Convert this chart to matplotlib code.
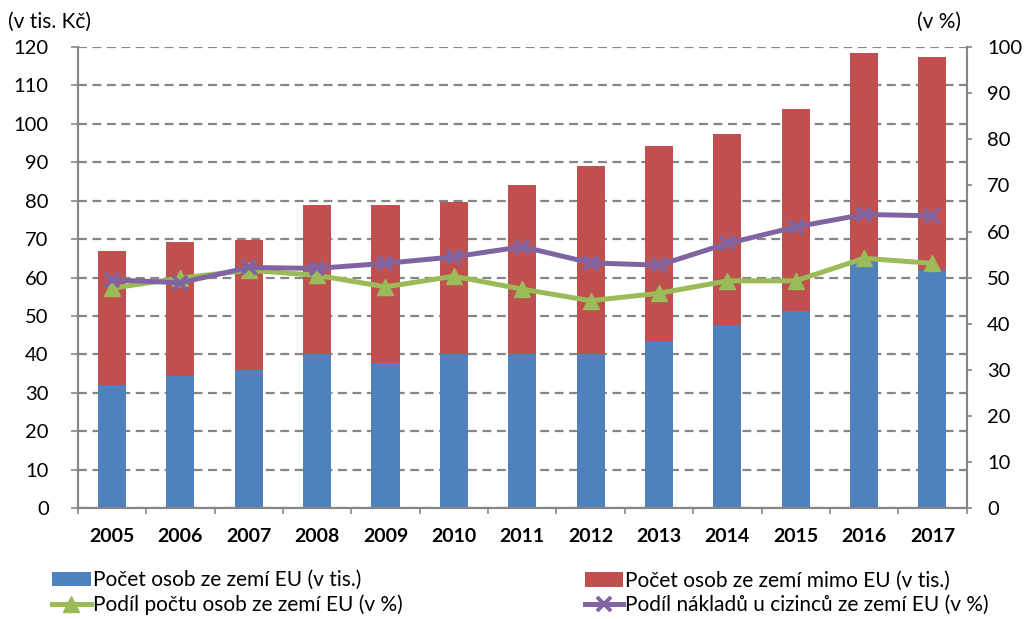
import matplotlib.pyplot as plt
import numpy as np

plt.rcParams['font.family'] = ['Lato', 'DejaVu Sans']

years = ['2005', '2006', '2007', '2008', '2009', '2010', '2011',
         '2012', '2013', '2014', '2015', '2016', '2017']
# pocet osob (v tis.)
eu_count = [32.0, 34.4, 35.9, 40.0, 37.8, 40.0, 40.0, 40.0, 43.6, 47.8, 51.3, 64.1, 62.0]
total_count = [67.0, 69.3, 69.9, 79.0, 78.8, 79.7, 84.0, 89.1, 94.3, 97.3, 104.0, 118.5, 117.3]
non_eu_count = [t - e for t, e in zip(total_count, eu_count)]
# podily (v %)
eu_share = [47.7, 49.9, 51.6, 50.5, 48.0, 50.3, 47.5, 45.0, 46.6, 49.3, 49.3, 54.2, 53.1]
cost_share = [49.5, 48.9, 52.2, 52.0, 53.1, 54.5, 56.7, 53.2, 52.7, 57.4, 61.0, 63.7, 63.4]

blue = '#4F81BD'
red = '#C0504D'
green = '#9BBB59'
purple = '#8064A2'
grey = '#868686'

fig = plt.figure(figsize=(10.24, 6.19), dpi=100)
ax = fig.add_axes([0.076, 0.179, 0.868, 0.745])
x = np.arange(len(years))

b1 = ax.bar(x, eu_count, width=0.41, color=blue, zorder=2)
b2 = ax.bar(x, non_eu_count, width=0.41, bottom=eu_count, color=red, zorder=2)

ax.set_ylim(0, 120)
ax.set_xlim(-0.5, len(years) - 0.5)
ax.set_yticks(range(0, 121, 10))
ax.yaxis.grid(True, linestyle=(0, (4, 2.5)), color=grey, linewidth=1.6, zorder=1)
ax.set_axisbelow(True)
ax.set_xticks(x)
ax.set_xticklabels(years, fontweight='bold', fontsize=14)
ax.set_xticks(np.arange(-0.5, len(years)), minor=True)
ax.tick_params(axis='x', which='major', length=0, pad=14)
ax.tick_params(axis='x', which='minor', length=4.5, width=1.2, color=grey)
ax.tick_params(axis='y', length=5, width=1.2, color=grey, labelsize=14.5, pad=16)
ax.spines['top'].set_visible(False)
for s in ['left', 'bottom', 'right']:
    ax.spines[s].set_color(grey)
    ax.spines[s].set_linewidth(1.5)

ax2 = ax.twinx()
ax2.set_ylim(0, 100)
ax2.set_yticks(range(0, 101, 10))
ax2.tick_params(axis='y', length=3.6, width=1.2, color=grey, labelsize=14.5, pad=11)
ax2.spines['top'].set_visible(False)
for s in ['left', 'bottom', 'right']:
    ax2.spines[s].set_color(grey)
    ax2.spines[s].set_linewidth(1.5)

l1, = ax2.plot(x, eu_share, color=green, linewidth=3.6, marker='^', markersize=11,
               markerfacecolor=green, markeredgecolor=green, zorder=3)
l2, = ax2.plot(x, cost_share, color=purple, linewidth=3.6, marker='x', markersize=10,
               markeredgewidth=2.8, zorder=4)

fig.text(0.008, 0.964, '(v tis. Kč)', fontsize=15, va='center')
fig.text(0.938, 0.964, '(v %)', fontsize=15, va='center', ha='right')

leg_kw = dict(loc='lower left', frameon=False, fontsize=15, handlelength=1.85,
              handletextpad=0.1, labelspacing=0.22, borderaxespad=0, borderpad=0)
leg1 = fig.legend([b1, l1], ['Počet osob ze zemí EU (v tis.)',
                             'Podíl počtu osob ze zemí EU (v %)'],
                  bbox_to_anchor=(0.051, 0.006), **leg_kw)
leg2 = fig.legend([b2, l2], ['Počet osob ze zemí mimo EU (v tis.)',
                             'Podíl nákladů u cizinců ze zemí EU (v %)'],
                  bbox_to_anchor=(0.571, 0.006), **leg_kw)

fig.savefig('out.png', dpi=100)
